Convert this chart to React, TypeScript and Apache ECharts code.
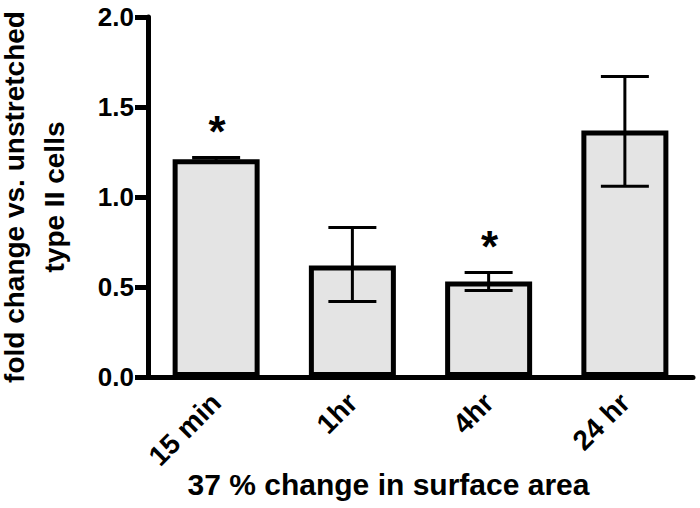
import React, { useEffect, useRef } from "react";
import * as echarts from "echarts";

const categories = ["15 min", "1hr", "4hr", "24 hr"];
const means = [1.21, 0.62, 0.53, 1.37];
const errLow = [1.2, 0.42, 0.48, 1.06];
const errHigh = [1.22, 0.83, 0.58, 1.67];
const significant = [true, false, true, false];
const yTicks = { min: 0, max: 2, interval: 0.5 };

const FONT = "'Liberation Sans', Arial, Helvetica, sans-serif";

export default function App() {
  const ref = useRef<HTMLDivElement>(null);
  useEffect(() => {
    if (!ref.current) return;
    const chart = echarts.init(ref.current, null, { renderer: "svg" });
    const errData = categories.map((_, i) => [i, errLow[i], errHigh[i], significant[i] ? 1 : 0]);
    chart.setOption({
      animation: false,
      backgroundColor: "#fff",
      grid: { left: 148, right: 7, top: 17, bottom: 131, containLabel: false, outerBoundsMode: "none" },
      xAxis: {
        type: "category",
        data: categories,
        name: "37 % change in surface area",
        nameLocation: "middle",
        nameGap: 92,
        nameMoveOverlap: false,
        nameTextStyle: {
          fontFamily: FONT,
          fontWeight: "bold",
          fontSize: 30,
          color: "#000",
          padding: [0, 64, 0, 0],
        },
        axisLine: { lineStyle: { color: "#000", width: 5 } },
        axisTick: { alignWithLabel: true, length: 12, lineStyle: { color: "#000", width: 5 } },
        axisLabel: { rotate: 45, margin: 21, fontFamily: FONT, fontWeight: "bold", fontSize: 28, color: "#000" },
      },
      yAxis: {
        type: "value",
        min: yTicks.min,
        max: yTicks.max,
        interval: yTicks.interval,
        name: "fold change vs. unstretched\ntype II cells",
        nameLocation: "middle",
        nameGap: 74,
        nameMoveOverlap: false,
        nameTextStyle: { fontFamily: FONT, fontWeight: "bold", fontSize: 28, color: "#000", lineHeight: 40 },
        axisLine: { show: true, lineStyle: { color: "#000", width: 5 } },
        axisTick: { show: true, length: 13, lineStyle: { color: "#000", width: 5 } },
        axisLabel: {
          margin: 14,
          fontFamily: FONT,
          fontWeight: "bold",
          fontSize: 26,
          color: "#000",
          formatter: (v: number) => v.toFixed(1),
        },
        splitLine: { show: false },
      },
      series: [
        {
          type: "bar",
          data: means,
          barWidth: 87,
          itemStyle: { color: "#e4e4e4", borderColor: "#000", borderWidth: 5 },
        },
        {
          type: "custom",
          data: errData,
          encode: { x: 0, y: [1, 2] },
          z: 5,
          renderItem: (params: any, api: any) => {
            const x = api.value(0);
            const lo = api.coord([x, api.value(1)]);
            const hi = api.coord([x, api.value(2)]);
            const half = 24;
            const st = { stroke: "#000", lineWidth: 3 };
            const children: any[] = [
              { type: "line", shape: { x1: lo[0], y1: lo[1], x2: hi[0], y2: hi[1] }, style: st },
              { type: "line", shape: { x1: lo[0] - half, y1: lo[1], x2: lo[0] + half, y2: lo[1] }, style: st },
              { type: "line", shape: { x1: hi[0] - half, y1: hi[1], x2: hi[0] + half, y2: hi[1] }, style: st },
            ];
            if (api.value(3)) {
              children.push({
                type: "text",
                x: hi[0] + 1,
                y: hi[1] - 4,
                style: {
                  text: "*",
                  font: `bold 44px ${FONT}`,
                  fill: "#000",
                  align: "center",
                  verticalAlign: "bottom",
                },
              });
            }
            return { type: "group", children };
          },
        },
      ],
    });
    return () => chart.dispose();
  }, []);
  return <div ref={ref} style={{ width: 700, height: 508, position: "absolute", left: 0, top: 0 }} />;
}
